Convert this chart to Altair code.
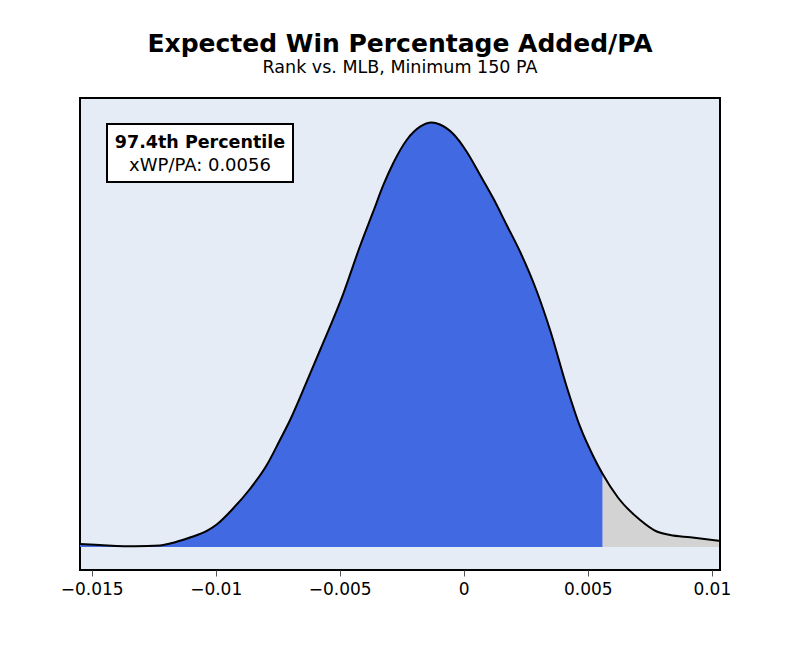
import altair as alt
import pandas as pd

# Density curve (x = xWP/PA, y = density, arbitrary units)
xs = [-0.01547, -0.01467, -0.01325, -0.01225, -0.01184, -0.01104, -0.01036, -0.00996,
      -0.00929, -0.00862, -0.00794, -0.00741, -0.00700, -0.00633, -0.00579, -0.00485,
      -0.00418, -0.00365, -0.00324, -0.00284, -0.00230, -0.00176, -0.00129, -0.00096,
      -0.00042, 0.00012, 0.00066, 0.00119, 0.00173, 0.00227, 0.00294, 0.00348,
      0.00415, 0.00469, 0.00523, 0.0056, 0.00623, 0.00711, 0.00778, 0.00832,
      0.00913, 0.01029]
dens = [0.92, 0.61, 0.21, 0.45, 1.07, 2.91, 4.91, 6.90,
        11.87, 17.78, 25.14, 32.81, 38.94, 50.68, 60.40, 77.78,
        92.29, 102.80, 110.99, 117.73, 124.79, 128.86, 130.15, 129.54,
        126.63, 121.20, 114.06, 106.91, 98.73, 90.54, 78.49, 66.53,
        49.15, 36.88, 27.69, 22.38, 15.02, 8.28, 4.75, 3.68,
        2.97, 1.93]
player_value = 0.0056
percentile_label = "97.4th Percentile"
value_label = "xWP/PA: 0.0056"
tick_values = [-0.015, -0.01, -0.005, 0, 0.005, 0.01]

rows = []
for x, d in zip(xs, dens):
    if x <= player_value:
        rows.append({"x": x, "d": d, "part": "below"})
    if x >= player_value:
        rows.append({"x": x, "d": d, "part": "above"})
area_df = pd.DataFrame(rows)
line_df = pd.DataFrame({"x": xs, "d": dens})

FONT = "DejaVu Sans"
xscale = alt.Scale(domain=[-0.01547, 0.01033], nice=False, zero=False)
yscale = alt.Scale(domain=[-7.05, 137.66], nice=False, zero=False)

xenc = alt.X("x:Q", scale=xscale,
             axis=alt.Axis(values=tick_values, format="~g", title=None, grid=False,
                           domain=False, labelFontSize=17, labelFont=FONT,
                           labelColor="black", tickColor="#555", tickSize=6,
                           labelPadding=5))
yenc = alt.Y("d:Q", scale=yscale, axis=None)

area = alt.Chart(area_df).mark_area(interpolate="monotone").encode(
    x=xenc, y=yenc, y2=alt.datum(0),
    color=alt.Color("part:N", scale=alt.Scale(domain=["below", "above"],
                                              range=["#4169E1", "#D3D3D3"]), legend=None),
)
line = alt.Chart(line_df).mark_line(interpolate="monotone", color="black",
                                    strokeWidth=2).encode(x=xenc, y=yenc)

ann_df = pd.DataFrame({"l1": [percentile_label], "l2": [value_label]})
box = alt.Chart(ann_df).mark_rect(fill="white", stroke="black", strokeWidth=2).encode(
    x=alt.value(27), x2=alt.value(213), y=alt.value(26), y2=alt.value(84))
t1 = alt.Chart(ann_df).mark_text(font=FONT, fontSize=17.5, fontWeight="bold",
                                 align="center", baseline="middle", color="black").encode(
    x=alt.value(120), y=alt.value(45), text="l1:N")
t2 = alt.Chart(ann_df).mark_text(font=FONT, fontSize=18, align="center",
                                 baseline="middle", color="black").encode(
    x=alt.value(120), y=alt.value(68), text="l2:N")

chart = alt.layer(area, line, box, t1, t2).properties(
    width=640, height=472,
    background="white",
    autosize=alt.AutoSizeParams(type="none"),
    padding={"left": 72, "top": 90, "right": 72, "bottom": 72},
    title=alt.TitleParams("Expected Win Percentage Added/PA",
                          subtitle="Rank vs. MLB, Minimum 150 PA",
                          font=FONT, fontSize=25, fontWeight="bold", color="black",
                          subtitleFont=FONT, subtitleFontSize=17.5, subtitleColor="black",
                          subtitlePadding=2, offset=22, anchor="middle"),
).configure_view(stroke="black", strokeWidth=2, fill="#E5ECF6")

chart.save("out.html", embed_options={"renderer": "svg", "actions": False})
